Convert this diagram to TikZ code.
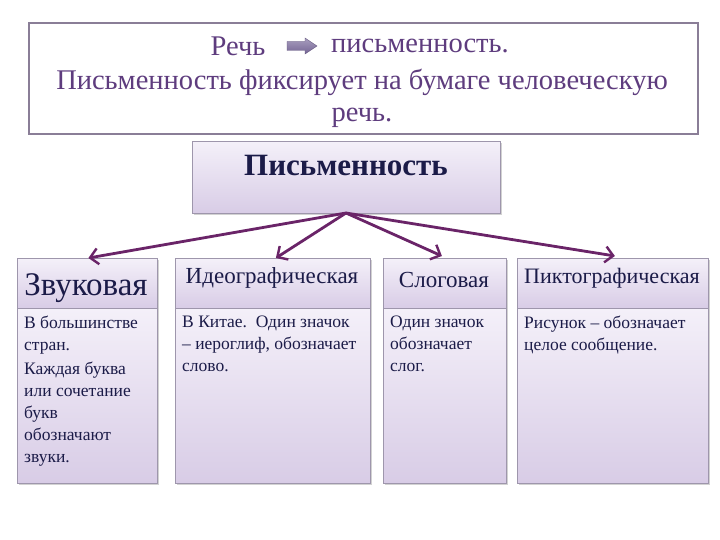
\documentclass[tikz,border=0pt]{standalone}
\usepackage{fontspec}
\setmainfont{Liberation Serif}
\usetikzlibrary{arrows.meta,shadows}
\definecolor{txtpurple}{HTML}{5E3C7E}
\definecolor{framec}{HTML}{8A7E97}
\definecolor{boxline}{HTML}{9E96AC}
\definecolor{navy}{HTML}{1B1B48}
\definecolor{arrowc}{HTML}{6A2468}
\definecolor{lavtop}{HTML}{F4F0F9}
\definecolor{lavbot}{HTML}{D8CCE6}
\definecolor{arrfill}{HTML}{7A6A9C}
\tikzset{
  panel/.style={draw=boxline, line width=0.8pt, top color=lavtop, bottom color=lavbot,
    drop shadow={shadow xshift=1.5pt, shadow yshift=-1.5pt, fill=black!35},
    anchor=north west, inner sep=0pt},
  toptext/.style={text=txtpurple, font=\fontsize{28.5}{30}\selectfont, inner sep=0pt},
  bodytext/.style={text=navy, font=\fontsize{17.5}{22}\selectfont, align=left, anchor=north west, inner sep=0pt},
  headtext/.style={text=navy, font=\fontsize{23}{26}\selectfont, inner sep=0pt},
  conn/.style={draw=arrowc, line width=2.8pt, -{Straight Barb[length=8pt,width=16pt,line width=2.4pt]}}
}
\begin{document}
\begin{tikzpicture}[x=1pt,y=-1pt]
\useasboundingbox[fill=white] (0,0) rectangle (720,540);
% top box
\node[draw=framec, line width=1.6pt, minimum width=669pt, minimum height=111pt, anchor=north west, fill=white] (topbox) at (28,22) {};
\node[toptext] (rech) at (238,46) {Речь};
\coordinate (ba) at (287,46);
\shade[top color=arrfill!65, bottom color=arrfill!95!black, draw=arrfill!80!black, line width=0.4pt]
  (ba) ++(0,-4.5) -- ++(18,0) -- ++(0,-3.5) -- ++(12,8) -- ++(-12,8) -- ++(0,-3.5) -- ++(-18,0) -- cycle;
\node[toptext] (pism) at (420,46) {письменность.};
\node[toptext] (line2) at (362,82) {Письменность фиксирует на бумаге человеческую};
\node[toptext] (line3) at (362,118) {речь.};
% main box
\node[panel, minimum width=308pt, minimum height=72pt] (main) at (192,141) {};
\node[text=navy, font=\bfseries\fontsize{31}{34}\selectfont, inner sep=0pt] (maintext) at (346,166) {Письменность};
% header boxes
\node[panel, minimum width=140pt, minimum height=50pt] (h1) at (17,258) {};
\node[panel, minimum width=195pt, minimum height=50pt] (h2) at (175,258) {};
\node[panel, minimum width=123pt, minimum height=50pt] (h3) at (383,258) {};
\node[panel, minimum width=191pt, minimum height=50pt] (h4) at (517,258) {};
% body boxes
\node[panel, minimum width=140pt, minimum height=175pt] (b1) at (17,308) {};
\node[panel, minimum width=195pt, minimum height=175pt] (b2) at (175,308) {};
\node[panel, minimum width=123pt, minimum height=175pt] (b3) at (383,308) {};
\node[panel, minimum width=191pt, minimum height=175pt] (b4) at (517,308) {};
% header texts
\node[text=navy, font=\fontsize{33}{36}\selectfont, inner sep=0pt] (t1) at (86,288) {Звуковая};
\node[headtext] (t2) at (272,278) {Идеографическая};
\node[headtext] (t3) at (444,280) {Слоговая};
\node[headtext, font=\fontsize{22}{26}\selectfont] (t4) at (612,278) {Пиктографическая};
% body texts
\node[bodytext] (x1) at (24,316) {В большинстве\\стран.\\[2pt]Каждая буква\\или сочетание\\букв\\обозначают\\звуки.};
\node[bodytext] (x2) at (182,316) {В Китае.\ \ Один значок\\– иероглиф, обозначает\\слово.};
\node[bodytext] (x3) at (390,316) {Один значок\\обозначает\\слог.};
\node[bodytext] (x4) at (524,316) {Рисунок – обозначает\\целое сообщение.};
% connectors
\coordinate (hub) at (346,213);
\draw[conn] (hub) -- ([xshift=1pt]h1.north);
\draw[conn] (hub) -- ([xshift=3pt]h2.north);
\draw[conn] (hub) -- ([xshift=-3pt,yshift=2pt]h3.north);
\draw[conn] (hub) -- ([xshift=2pt,yshift=2pt]h4.north);
\end{tikzpicture}
\end{document}
